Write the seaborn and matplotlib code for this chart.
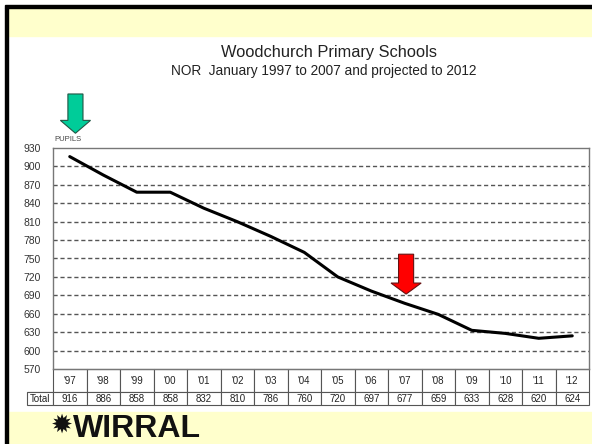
import matplotlib
matplotlib.use("Agg")
import matplotlib.pyplot as plt
import matplotlib.patches as mpatches
import seaborn as sns
import numpy as np

# data
years = ["'97", "'98", "'99", "'00", "'01", "'02", "'03", "'04",
         "'05", "'06", "'07", "'08", "'09", "'10", "'11", "'12"]
totals = [916, 886, 858, 858, 832, 810, 786, 760,
          720, 697, 677, 659, 633, 628, 620, 624]
y_ticks = list(range(570, 931, 30))

W, H = 592, 444


def px(x, y):
    # pixel position (top-left origin) -> figure fraction
    return x / W, 1 - y / H


sns.set_theme(style="white")
plt.rcParams['font.family'] = ['Liberation Sans', 'DejaVu Sans']

fig = plt.figure(figsize=(W / 100, H / 100), dpi=100)
fig.patch.set_facecolor("white")

# slide decoration: yellow bands and black border
yellow = "#FFFFCC"
fig.patches.append(mpatches.Rectangle(px(8, 36), (W - 8) / W, 28 / H,
                                      transform=fig.transFigure, color=yellow, zorder=0))
fig.patches.append(mpatches.Rectangle(px(8, 444), (W - 8) / W, 32 / H,
                                      transform=fig.transFigure, color=yellow, zorder=0))
fig.patches.append(mpatches.Rectangle(px(5, 8), (W - 5) / W, 3 / H,
                                      transform=fig.transFigure, color="black", zorder=1))
fig.patches.append(mpatches.Rectangle(px(5, 444), 3 / W, 436 / H,
                                      transform=fig.transFigure, color="black", zorder=1))

# titles
fig.text(*px(329, 52), "Woodchurch Primary Schools", ha="center", va="center",
         fontsize=11.8, color="#222222")
fig.text(*px(324, 71), "NOR  January 1997 to 2007 and projected to 2012", ha="center",
         va="center", fontsize=9.8, color="#222222")

# main axes
ax = fig.add_axes([53 / W, (H - 369) / H, 536 / W, 221 / H])
idx = np.arange(len(years))
sns.lineplot(x=idx, y=totals, ax=ax, color="black", linewidth=2.2)

ax.set_xlim(-0.5, len(years) - 0.5)
ax.set_ylim(570, 930)
ax.set_yticks(y_ticks)
ax.set_yticklabels([str(v) for v in y_ticks], fontsize=7.5, color="#333333")
ax.tick_params(axis="y", length=0, pad=9)
ax.set_xticks(idx)
ax.tick_params(axis="x", direction="in", length=6, width=0.8, color="#555555",
               labelbottom=False)
ax.set_xlabel("")
ax.set_ylabel("")
for g in y_ticks[1:-1]:
    ax.axhline(g, color="#555555", linewidth=1.0, linestyle=(0, (3, 2)), zorder=1)
for s in ax.spines.values():
    s.set_color("#777777")
    s.set_linewidth(1.0)
    s.set_visible(True)

ax.text(0.003, 1.04, "PUPILS", transform=ax.transAxes, fontsize=5.5,
        color="#444444", ha="left", va="center")

# table below the plot
cell_text = [[""] + years, ["Total"] + [str(v) for v in totals]]
tab = ax.table(cellText=cell_text, cellLoc="center",
               colWidths=[26] + [536 / len(years)] * len(years),
               bbox=[-26 / 536, -36 / 221, 562 / 536, 36 / 221])
tab.auto_set_font_size(False)
for (r, c), cell in tab.get_celld().items():
    cell.set_height(23 if r == 0 else 13)
    cell.set_edgecolor("#555555")
    cell.set_linewidth(0.8)
    cell.get_text().set_fontsize(7)
    cell.get_text().set_color("#222222")
    if r == 0 and c == 0:
        cell.visible_edges = "B"

# arrows
ax.add_patch(mpatches.FancyArrow(0.17, 1018, 0, -64, width=0.45, head_width=0.9,
                                 head_length=21, length_includes_head=True,
                                 facecolor="#00CC99", edgecolor="#225544",
                                 linewidth=0.8, clip_on=False, zorder=5))
ax.add_patch(mpatches.FancyArrow(10.04, 757, 0, -65, width=0.45, head_width=0.9,
                                 head_length=18, length_includes_head=True,
                                 facecolor="#FF0000", edgecolor="#661111",
                                 linewidth=0.8, clip_on=False, zorder=5))

# logo
fig.text(*px(51, 426), "\u2739", fontsize=19, color="#111111", ha="left",
         va="center", family=["DejaVu Sans"])
fig.text(*px(73, 437), "WIRRAL", fontsize=23, fontweight="bold", color="#111111",
         ha="left", va="baseline")

fig.savefig("out.png", dpi=100)
